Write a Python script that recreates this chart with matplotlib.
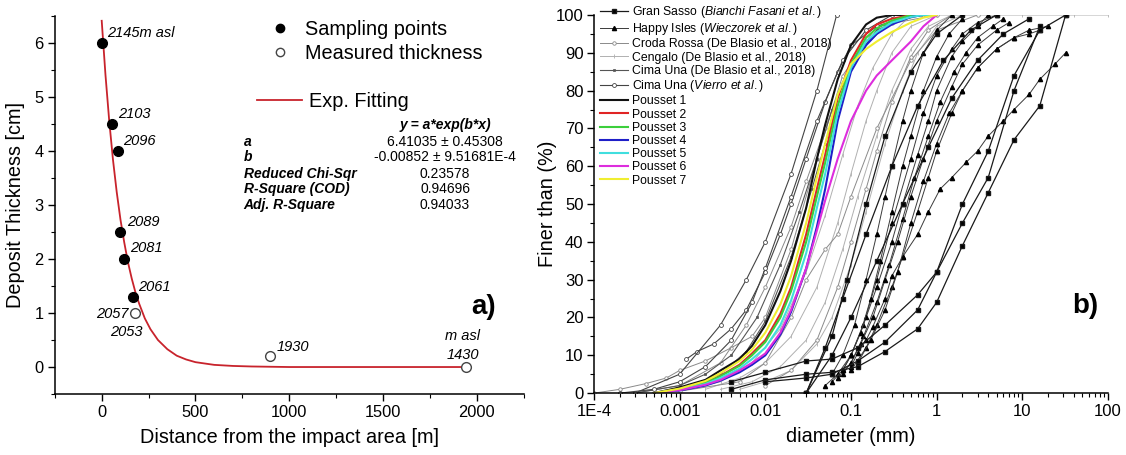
import matplotlib.pyplot as plt
from matplotlib.ticker import MultipleLocator, LogLocator, FixedLocator, FixedFormatter, NullFormatter
from matplotlib.lines import Line2D

plt.rcParams['font.family'] = ['Liberation Sans', 'DejaVu Sans']
plt.rcParams['mathtext.fontset'] = 'custom'
plt.rcParams['mathtext.rm'] = 'Liberation Sans'
plt.rcParams['mathtext.it'] = 'Liberation Sans:italic'

# ---- panel a) deposit thickness ----
sampling_x = [0, 57, 85, 100, 120, 165]
sampling_y = [6.0, 4.5, 4.0, 2.5, 2.0, 1.3]
measured_x = [180, 896, 1945]
measured_y = [1.0, 0.2, 0.0]

fit_x = [0, 20, 40, 60, 80, 100, 120, 140, 160, 180, 200, 230, 260, 300, 350, 400,
         450, 500, 600, 700, 800, 1000, 1300, 1600, 1950]
fit_y = [6.41, 5.41, 4.56, 3.84, 3.24, 2.73, 2.31, 1.94, 1.64, 1.38, 1.17, 0.90, 0.70,
         0.50, 0.33, 0.21, 0.14, 0.09, 0.04, 0.02, 0.01, 0.0, 0.0, 0.0, 0.0]

elev_labels = ['2145m asl', '2103', '2096', '2089', '2081', '2061', '2057', '2053', '1930']
elev_pos = [(28, 6.18), (86, 4.68), (114, 4.19), (133, 2.69), (152, 2.2), (196, 1.48),
            (146, 0.99), (133, 0.64), (932, 0.37)]

stat_names = ['a', 'b', 'Reduced Chi-Sqr', 'R-Square (COD)', 'Adj. R-Square']
stat_values = ['6.41035 ± 0.45308', '-0.00852 ± 9.51681E-4', '0.23578', '0.94696', '0.94033']

# ---- panel b) grain size curves (diameter mm, percent finer) ----
gran_sasso_d = [[0.004, 0.01, 0.03, 0.06, 0.12, 0.25, 0.6, 1, 2, 4, 8, 16, 32],
                [0.004, 0.01, 0.03, 0.06, 0.12, 0.25, 0.6, 1, 2, 4, 8, 16],
                [0.01, 0.03, 0.06, 0.12, 0.25, 0.6, 1, 2, 4, 8, 16, 32],
                [0.03, 0.06, 0.1, 0.2, 0.4, 0.8, 1.5, 3, 6, 12],
                [0.03, 0.05, 0.08, 0.15, 0.3, 0.6, 1.2, 2.5, 5],
                [0.03, 0.06, 0.09, 0.15, 0.25, 0.5, 1, 2]]
gran_sasso_p = [[1, 3.5, 5, 5.5, 7, 11, 17, 24, 39, 53, 67, 76, 100],
                [3, 5.5, 8.5, 9, 12, 18, 26, 32, 45, 57, 80, 97],
                [3, 4, 5, 8.5, 13.5, 22, 32, 50, 64, 84, 96, 100],
                [0, 10, 20, 35, 50, 65, 78, 88, 95, 99],
                [0, 12, 25, 42, 60, 76, 88, 96, 100],
                [0, 15, 30, 50, 68, 85, 95, 100]]

happy_d = [[0.05, 0.07, 0.1, 0.14, 0.2, 0.3, 0.5, 0.7, 1, 1.5, 2, 3, 5],
           [0.06, 0.08, 0.1, 0.15, 0.2, 0.3, 0.4, 0.6, 0.8, 1, 1.5, 2, 3, 4],
           [0.07, 0.1, 0.14, 0.2, 0.28, 0.4, 0.55, 0.8, 1.1, 1.6, 2.2, 3, 4.5, 6],
           [0.08, 0.1, 0.13, 0.18, 0.25, 0.35, 0.5, 0.7, 1, 1.5, 2, 3, 5, 7],
           [0.1, 0.15, 0.2, 0.3, 0.4, 0.6, 0.8, 1, 1.5, 2, 3, 5, 8, 12, 16],
           [0.1, 0.12, 0.15, 0.18, 0.25, 0.3, 0.4, 0.6, 0.8, 1.1, 1.5, 2.2, 3, 4, 6, 8, 12, 16, 24, 32],
           [0.12, 0.17, 0.25, 0.35, 0.5, 0.7, 1, 1.4, 2, 3, 5, 8, 12, 20],
           [0.06, 0.08, 0.11, 0.15, 0.2, 0.25, 0.3, 0.4, 0.5, 0.7, 1, 1.5],
           [0.08, 0.1, 0.13, 0.17, 0.22, 0.3, 0.4, 0.5, 0.7, 1, 1.4, 2]]
happy_p = [[2, 5, 10, 18, 30, 45, 62, 74, 84, 91, 95, 98, 100],
           [3, 6, 10, 20, 28, 40, 50, 63, 72, 80, 89, 93, 97, 100],
           [4, 8, 15, 24, 34, 46, 57, 68, 77, 85, 90, 94, 97, 99],
           [5, 8, 13, 20, 30, 40, 52, 62, 72, 81, 87, 92, 96, 98],
           [6, 12, 18, 28, 36, 48, 57, 64, 74, 80, 86, 91, 94, 95, 96],
           [7, 10.6, 14, 17.6, 25, 31, 36, 42, 48, 54, 57, 61, 64, 68, 72, 75, 79, 83, 87, 90],
           [8, 14, 22, 32, 45, 56, 66, 74, 80, 86, 91, 94, 96, 97],
           [5, 10, 18, 30, 42, 52, 60, 72, 80, 90, 96, 100],
           [6, 10, 16, 25, 35, 48, 60, 68, 80, 89, 95, 99]]

croda_d = [[0.001, 0.005, 0.01, 0.02, 0.03, 0.05, 0.07, 0.1, 0.2, 0.5, 1, 3],
           [0.0001, 0.0002, 0.0004, 0.0007, 0.001, 0.002, 0.004, 0.007, 0.01, 0.02, 0.04, 0.08, 0.2, 1],
           [0.0003, 0.001, 0.003, 0.006, 0.01, 0.02, 0.03, 0.05, 0.08, 0.15, 0.3, 0.7],
           [0.01, 0.02, 0.04, 0.07, 0.1, 0.15, 0.2, 0.3, 0.5, 0.8, 1.5]]
croda_p = [[0.5, 3, 8, 20, 30, 38, 42, 52, 70, 88, 96, 100],
           [0, 1, 2.5, 4, 6, 8.5, 12, 15, 20, 38, 62, 84, 97, 100],
           [0, 2, 8, 18, 28, 44, 56, 70, 82, 93, 98, 100],
           [2, 6, 14, 28, 40, 54, 64, 77, 89, 96, 100]]

cengalo_d = [[0.002, 0.005, 0.01, 0.02, 0.04, 0.07, 0.1, 0.15, 0.2, 0.3, 0.5, 1, 10, 40, 100],
             [0.003, 0.007, 0.015, 0.03, 0.05, 0.08, 0.12, 0.2, 0.3, 0.5, 0.8, 1.5],
             [0.005, 0.01, 0.02, 0.04, 0.06, 0.1, 0.15, 0.25, 0.4, 0.6, 1, 2],
             [0.001, 0.003, 0.007, 0.015, 0.03, 0.05, 0.08, 0.12, 0.18, 0.3, 0.5]]
cengalo_p = [[1, 4, 8, 15, 28, 45, 58, 72, 80, 90, 97, 100, 100, 100, 100],
             [1, 3, 7, 14, 24, 38, 52, 68, 80, 91, 97, 100],
             [1, 3, 6, 13, 20, 34, 48, 66, 80, 90, 97, 100],
             [0.5, 3, 8, 17, 32, 47, 63, 76, 86, 95, 100]]

cima_db_d = [[0.0003, 0.001, 0.002, 0.004, 0.008, 0.015, 0.025, 0.04, 0.06, 0.1, 0.2, 0.5],
             [0.0005, 0.001, 0.003, 0.006, 0.01, 0.02, 0.035, 0.05, 0.08, 0.12, 0.25, 0.6]]
cima_db_p = [[0, 2, 5, 10, 20, 34, 48, 62, 75, 87, 96, 100],
             [0, 1, 5, 11, 19, 36, 54, 66, 80, 90, 97, 100]]

cima_v_d = [[0.0012, 0.0016, 0.0025, 0.004, 0.006, 0.01, 0.015, 0.02, 0.03, 0.05, 0.07, 0.1, 0.2, 0.5],
            [0.0003, 0.001, 0.003, 0.006, 0.01, 0.02, 0.04, 0.068],
            [0.0002, 0.0005, 0.001, 0.002, 0.004, 0.007, 0.01, 0.02, 0.04, 0.08, 0.15, 0.3]]
cima_v_p = [[9, 11, 13, 17, 22, 32, 42, 50, 62, 77, 85, 92, 97, 100],
            [0, 5, 18, 30, 40, 58, 80, 100],
            [0, 1, 3, 7, 14, 24, 33, 52, 72, 88, 96, 100]]

pousset_d = [0.0005, 0.001, 0.002, 0.003, 0.005, 0.007, 0.01, 0.015, 0.02, 0.03, 0.04,
             0.05, 0.07, 0.1, 0.15, 0.2, 0.3, 0.5, 0.7, 1.0]
pousset_1 = [0, 1.5, 3.5, 6, 9, 12.5, 18, 27, 35, 49, 62, 71, 83, 92, 97.5, 99.3, 100, 100, 100, 100]
pousset_2 = [0, 1, 2.8, 4.6, 7.5, 10.5, 14, 21, 28, 42, 54, 63, 78, 88, 95, 97.5, 99, 100, 100, 100]
pousset_3 = [0, 1, 2.7, 4.5, 7.2, 10, 13.5, 20, 27, 40, 52, 61, 76, 87, 94, 96.5, 98.5, 100, 100, 100]
pousset_4 = [0, 0.7, 2, 3.3, 5.5, 7.5, 10, 15.5, 21.5, 33, 44, 54, 72, 85, 92, 95, 97.5, 99.5, 100, 100]
pousset_5 = [0, 0.9, 2.4, 4, 6.5, 9, 12, 18, 24.5, 37, 49, 58, 74, 86, 93, 95.5, 98, 99.5, 100, 100]
pousset_6 = [0, 0.8, 2.2, 3.5, 6, 8, 10.5, 16, 22, 33, 43, 51, 62, 72, 80, 84, 88, 93, 97, 100]
pousset_7 = [0, 1.2, 3.2, 5.3, 8.5, 11.5, 16, 23.5, 31, 45, 57, 66, 79, 87, 91, 93, 95.5, 98, 99.3, 100]
pousset_all = [pousset_1, pousset_2, pousset_3, pousset_4, pousset_5, pousset_6, pousset_7]
pousset_colors = ['#111111', '#e02424', '#3ccf3c', '#1f1fc8', '#40dede', '#dd2ddd', '#f0ee30']

x_tick_vals = [1e-4, 1e-3, 1e-2, 1e-1, 1, 10, 100]
x_tick_labels = ['1E-4', '0.001', '0.01', '0.1', '1', '10', '100']


def style_axis(ax, size, pad):
    for s in ['top', 'right']:
        ax.spines[s].set_visible(False)
    for s in ['left', 'bottom']:
        ax.spines[s].set_linewidth(1.1)
    ax.tick_params(which='major', direction='out', length=5, width=1.0, labelsize=size, pad=pad)
    ax.tick_params(which='minor', direction='out', length=3, width=0.8)


fig = plt.figure(figsize=(11.26, 4.55), dpi=100)

# ---------------- panel a ----------------
ax1 = fig.add_axes([0.0487, 0.134, 0.4163, 0.831])
style_axis(ax1, 11.8, 3)
ax1.plot(fit_x, fit_y, color='#c8232c', lw=1.3, zorder=2)
ax1.plot(sampling_x, sampling_y, 'o', color='black', ms=7, zorder=3)
ax1.plot(measured_x, measured_y, 'o', mfc='white', mec='#444444', mew=1.0, ms=7, zorder=3)

for lab, (tx, ty) in zip(elev_labels, elev_pos):
    ha = 'right' if lab == '2057' else ('center' if lab == '2053' else 'left')
    ax1.text(tx, ty, lab, style='italic', fontsize=10.5, ha=ha, va='center')
ax1.text(1924, 0.57, 'm asl', style='italic', fontsize=10.5, ha='center', va='center')
ax1.text(1924, 0.22, '1430', style='italic', fontsize=10.5, ha='center', va='center')

ax1.text(1831, 4.48, 'y = a*exp(b*x)', fontsize=10, fontweight='bold', style='italic',
         ha='center', va='center')
for i, (nm, val) in enumerate(zip(stat_names, stat_values)):
    yy = [4.17, 3.88, 3.58, 3.29, 3.0][i]
    ax1.text(757, yy, nm, fontsize=10, fontweight='bold', style='italic', ha='left', va='center')
    ax1.text(1831, yy, val, fontsize=10, ha='center', va='center')

ax1.text(2034, 1.11, 'a)', fontsize=20, fontweight='bold', ha='center', va='center')

h1 = [Line2D([], [], ls='none', marker='o', color='black', ms=6),
      Line2D([], [], ls='none', marker='o', mfc='white', mec='#444444', ms=6)]
leg1 = ax1.legend(h1, ['Sampling points', 'Measured thickness'], loc='center left',
                  bbox_to_anchor=(899, 6.035), bbox_transform=ax1.transData, frameon=False,
                  fontsize=14.3, handlelength=1.0, handletextpad=0.75, borderpad=0,
                  borderaxespad=0, labelspacing=0.25)
ax1.add_artist(leg1)
h2 = [Line2D([], [], color='#c8232c', lw=1.3)]
ax1.legend(h2, ['Exp. Fitting'], loc='center left', bbox_to_anchor=(827, 4.92),
           bbox_transform=ax1.transData, frameon=False, fontsize=14.3, handlelength=2.3,
           handletextpad=0.35, borderpad=0, borderaxespad=0)

ax1.set_xlim(-250, 2250)
ax1.set_ylim(-0.5, 6.5)
ax1.xaxis.set_major_locator(MultipleLocator(500))
ax1.xaxis.set_minor_locator(MultipleLocator(250))
ax1.yaxis.set_major_locator(MultipleLocator(1))
ax1.yaxis.set_minor_locator(MultipleLocator(0.5))
ax1.set_xlabel('Distance from the impact area [m]', fontsize=14.3, labelpad=6)
ax1.set_ylabel('Deposit Thickness [cm]', fontsize=14.3, labelpad=7)

# ---------------- panel b ----------------
ax2 = fig.add_axes([0.5275, 0.136, 0.4565, 0.831])
style_axis(ax2, 12, 2.5)
ax2.set_xscale('log')

for i, (d, p) in enumerate(zip(cengalo_d, cengalo_p)):
    ax2.plot(d, p, color='#b0b0b0', lw=0.7, marker='|', ms=3, mew=0.6,
             label='Cengalo (De Blasio et al., 2018)' if i == 0 else None)
for i, (d, p) in enumerate(zip(croda_d, croda_p)):
    ax2.plot(d, p, color='#8a8a8a', lw=0.7, marker='o', ms=2.5, mfc='white', mew=0.6,
             label='Croda Rossa (De Blasio et al., 2018)' if i == 0 else None)
for i, (d, p) in enumerate(zip(cima_db_d, cima_db_p)):
    ax2.plot(d, p, color='#555555', lw=0.8, marker='s', ms=2, mew=0.5,
             label='Cima Una (De Blasio et al., 2018)' if i == 0 else None)
for i, (d, p) in enumerate(zip(cima_v_d, cima_v_p)):
    ax2.plot(d, p, color='#444444', lw=0.8, marker='o', ms=2.8, mfc='white', mew=0.6,
             label='Cima Una ($\\it{Vierro\\ et\\ al.}$)' if i == 0 else None)
for i, (d, p) in enumerate(zip(happy_d, happy_p)):
    ax2.plot(d, p, color='#3a3a3a', lw=0.7, marker='^', ms=3, mfc='black', mec='black',
             label='Happy Isles ($\\it{Wieczorek\\ et\\ al.}$)' if i == 0 else None)
for i, (d, p) in enumerate(zip(gran_sasso_d, gran_sasso_p)):
    ax2.plot(d, p, color='#1a1a1a', lw=0.9, marker='s', ms=2.8, mfc='black',
             label='Gran Sasso ($\\it{Bianchi\\ Fasani\\ et\\ al.}$)' if i == 0 else None)
for k, (pp, c) in enumerate(zip(pousset_all, pousset_colors)):
    ax2.plot(pousset_d, pp, color=c, lw=1.5, label='Pousset %d' % (k + 1))

order = ['Gran Sasso', 'Happy Isles', 'Croda Rossa', 'Cengalo', 'Cima Una (De',
         'Cima Una ($', 'Pousset 1', 'Pousset 2', 'Pousset 3', 'Pousset 4',
         'Pousset 5', 'Pousset 6', 'Pousset 7']
handles, labels = ax2.get_legend_handles_labels()
hs, ls = [], []
for key in order:
    for h, l in zip(handles, labels):
        if l.startswith(key):
            hs.append(h)
            ls.append(l)
            break
ax2.legend(hs, ls, loc='upper left', bbox_to_anchor=(600 / 1126, 1 - 4 / 455),
           bbox_transform=fig.transFigure, frameon=False, fontsize=8.8, handlelength=2.3,
           handletextpad=0.35, borderpad=0, borderaxespad=0, labelspacing=0.1)

ax2.text(54, 23, 'b)', fontsize=20, fontweight='bold', ha='center', va='center')

ax2.set_xlim(1e-4, 100)
ax2.set_ylim(0, 100)
ax2.xaxis.set_major_locator(FixedLocator(x_tick_vals))
ax2.xaxis.set_major_formatter(FixedFormatter(x_tick_labels))
ax2.xaxis.set_minor_locator(LogLocator(base=10, subs=range(2, 10), numticks=20))
ax2.xaxis.set_minor_formatter(NullFormatter())
ax2.yaxis.set_major_locator(MultipleLocator(10))
ax2.yaxis.set_minor_locator(MultipleLocator(5))
ax2.set_xlabel('diameter (mm)', fontsize=14.3, labelpad=6)
ax2.set_ylabel('Finer than (%)', fontsize=14.3, labelpad=-1)

fig.savefig('out.png', dpi=100)
